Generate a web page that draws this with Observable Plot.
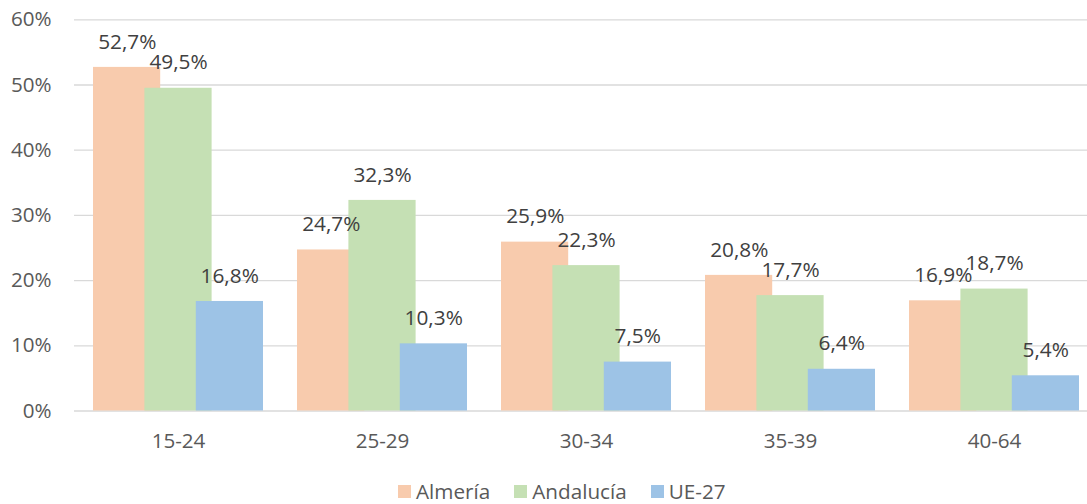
<!DOCTYPE html>
<html>
<head>
<meta charset="utf-8">
<script src="https://cdn.jsdelivr.net/npm/d3@7"></script>
<script src="https://cdn.jsdelivr.net/npm/@observablehq/plot@0.6"></script>
<style>
  html, body { margin: 0; background: #fff; font-family: "Open Sans", sans-serif; overflow: hidden; }
  #chart svg { display: block; }
  .legend { display: flex; align-items: center; height: 39px; box-sizing: border-box; padding-top: 13px; padding-left: 398px; font-size: 20.7px; color: #595959; line-height: 20px; }
  .legend .item { display: flex; align-items: center; margin-right: 24px; }
  .legend .sw { width: 13px; height: 13px; margin-right: 5px; }
</style>
</head>
<body>
<div id="chart"></div>
<div class="legend" id="legend"></div>
<script>
const groups = ["15-24", "25-29", "30-34", "35-39", "40-64"];
const almeria = [52.7, 24.7, 25.9, 20.8, 16.9];
const andalucia = [49.5, 32.3, 22.3, 17.7, 18.7];
const ue27 = [16.8, 10.3, 7.5, 6.4, 5.4];
const seriesNames = ["Almería", "Andalucía", "UE-27"];
const colors = ["#f8cbad", "#c5e0b4", "#9dc3e6"];
const yTicks = [0, 10, 20, 30, 40, 50, 60];

const seriesValues = [almeria, andalucia, ue27];
const tables = seriesValues.map((vals, s) => groups.map((g, i) => ({group: g, value: vals[i], series: seriesNames[s]})));

const fmt = v => v.toFixed(1).replace(".", ",") + "%";

// layout of the three overlapping bars inside each group band
const insets = [[17, 119.8], [68.4, 68.4], [119.8, 17]];
const labelDx = [-51.2, 0, 51.2];

const marks = [
  Plot.ruleY(yTicks, {stroke: "#d9d9d9", strokeWidth: 1.3})
];
tables.forEach((t, s) => {
  marks.push(Plot.barY(t, {x: "group", y: "value", fill: colors[s], insetLeft: insets[s][0], insetRight: insets[s][1]}));
});
tables.forEach((t, s) => {
  marks.push(Plot.text(t, {x: "group", y: "value", text: d => fmt(d.value), dx: labelDx[s], dy: -25.5, fill: "#404040", fontSize: 20.8}));
});

const chart = Plot.plot({
  width: 1087,
  height: 465,
  marginLeft: 74,
  marginRight: 0,
  marginTop: 19,
  marginBottom: 54,
  style: {fontFamily: "Open Sans, sans-serif", fontSize: "20.6px", color: "#595959", background: "#fff"},
  x: {domain: groups, range: [74, 1098], padding: 0, tickSize: 0, tickPadding: 22, label: null},
  y: {domain: [0, 60], range: [410.5, 19.3], ticks: yTicks, tickFormat: d => d + "%", tickSize: 0, tickPadding: 23, label: null},
  marks
});
document.getElementById("chart").appendChild(chart);

const legend = document.getElementById("legend");
seriesNames.forEach((n, s) => {
  const item = document.createElement("div");
  item.className = "item";
  const sw = document.createElement("span");
  sw.className = "sw";
  sw.style.background = colors[s];
  const lab = document.createElement("span");
  lab.textContent = n;
  item.appendChild(sw);
  item.appendChild(lab);
  legend.appendChild(item);
});
</script>
</body>
</html>
